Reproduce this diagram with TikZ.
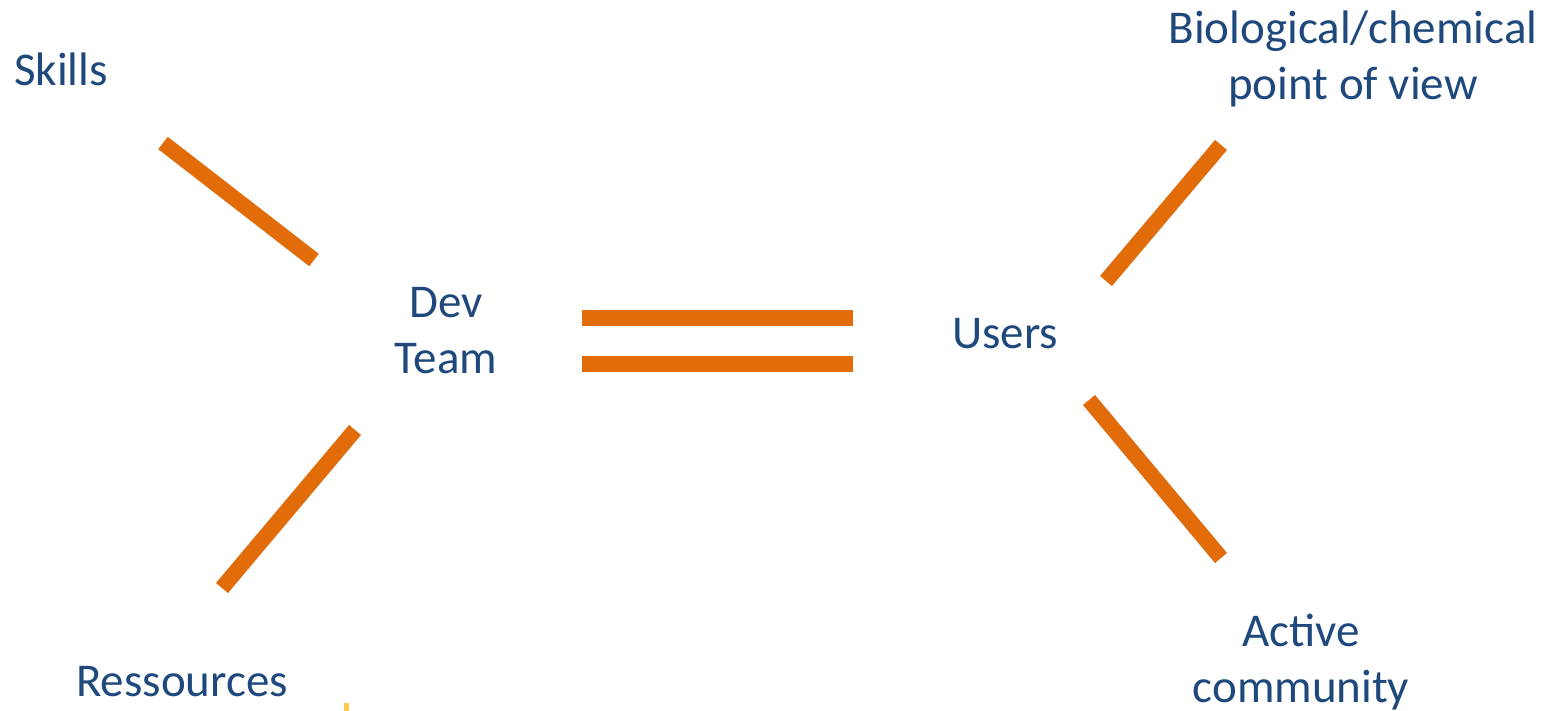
\documentclass[tikz,border=0pt]{standalone}
\usepackage{fontspec}
\setmainfont{Carlito}
\definecolor{barorange}{HTML}{E36C0A}
\definecolor{txtblue}{HTML}{1F497D}
\definecolor{fragyellow}{HTML}{FFC94A}
\begin{document}
\begin{tikzpicture}[x=1pt,y=-1pt,
  lbl/.style={text=txtblue,font=\fontsize{47}{56}\selectfont,align=center,inner sep=0pt,anchor=base},
  bar/.style={draw=barorange,line width=15.5pt},
  barshadow/.style={draw=black,opacity=0.12,line width=16pt,shift={(2pt,3pt)}}]
\useasboundingbox (0,0) rectangle (1560,711);
% labels (base anchor = baseline of the last line)
\node[lbl] (skills) at (61,86) {Skills};
\node[lbl] (dev) at (446,373) {Dev\\Team};
\node[lbl] (users) at (1005,348) {Users};
\node[lbl] (res) at (182,696) {Ressources};
\node[lbl] (bio) at (1353,100) {Biological/chemical\\point of view};
\node[lbl] (act) at (1301,702) {Active\\community};
% bar end points
\coordinate (s1) at (163,143); \coordinate (s2) at (314,260);
\coordinate (r1) at (355,430); \coordinate (r2) at (222,588);
\coordinate (h1a) at (582,318); \coordinate (h1b) at (853,318);
\coordinate (h2a) at (582,364); \coordinate (h2b) at (853,364);
\coordinate (b1) at (1221,145); \coordinate (b2) at (1106,281);
\coordinate (c1) at (1089,400); \coordinate (c2) at (1221,558);
% shadows
\foreach \a/\b in {s1/s2,r1/r2,h1a/h1b,h2a/h2b,b1/b2,c1/c2}
  \draw[barshadow] (\a) -- (\b);
% bars
\foreach \a/\b in {s1/s2,r1/r2,h1a/h1b,h2a/h2b,b1/b2,c1/c2}
  \draw[bar] (\a) -- (\b);
% small yellow fragment
\fill[fragyellow] (344,703) rectangle (349,711);
\end{tikzpicture}
\end{document}
